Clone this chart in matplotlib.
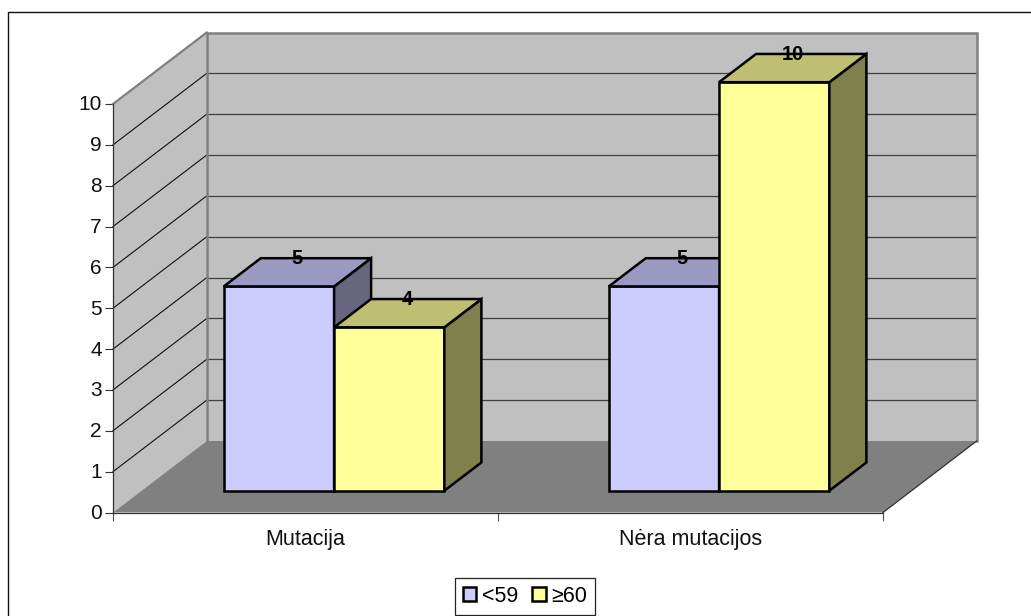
import matplotlib
matplotlib.use("Agg")
import matplotlib.pyplot as plt
from matplotlib.patches import Polygon, Patch, Rectangle
from matplotlib.transforms import ScaledTranslation

plt.rcParams['font.family'] = ['Liberation Sans', 'DejaVu Sans']

# Data
categories = ["Mutacija", "Nėra mutacijos"]
series_names = ["<59", "≥60"]
values_young = [5, 5]
values_old = [4, 10]
y_ticks = list(range(0, 11))

# Box projection: depth 0..1 shifts a point right and up on the axes
DEPTH_X = 93.7 / 385.0   # category units per unit of depth
DEPTH_Y = 71.5 / 40.85   # value units per unit of depth
BAR_D0, BAR_D1 = 0.305, 0.70
BAR_W = 110.3 / 385.0

colors = [
    {"front": "#CCCCFF", "top": "#9999C2", "side": "#66667F"},
    {"front": "#FFFF99", "top": "#BFBF73", "side": "#80804C"},
]
WALL, FLOOR, WALL_EDGE = "#C0C0C0", "#808080", "#808080"


def proj(x, v, d):
    return (x + d * DEPTH_X, v + d * DEPTH_Y)


fig = plt.figure(figsize=(10.31, 6.16), dpi=100)
fig.add_artist(Rectangle((7.5 / 1031, -0.1), 1.2, 1.1 - 11.5 / 616, transform=fig.transFigure,
                         fc="white", ec="#111111", lw=1.0, zorder=-5))

ax = fig.add_axes([113 / 1031, (616 - 512.5) / 616, 770 / 1031, 408.5 / 616])
ax.set_xlim(0, 2)
ax.set_ylim(0, 10)
ax.patch.set_visible(False)


def poly(points, **kw):
    kw.setdefault("clip_on", False)
    kw.setdefault("joinstyle", "miter")
    ax.add_patch(Polygon(points, closed=True, **kw))


# Walls and floor
poly([proj(0, 0, 1), proj(2, 0, 1), proj(2, 10, 1), proj(0, 10, 1)], fc=WALL, ec="none", zorder=1)
poly([proj(0, 0, 0), proj(0, 0, 1), proj(0, 10, 1), proj(0, 10, 0)], fc=WALL, ec="none", zorder=1)
poly([proj(0, 0, 0), proj(2, 0, 0), proj(2, 0, 1), proj(0, 0, 1)], fc=FLOOR, ec="none", zorder=1.5)

# Gridlines run across the side wall and the back wall
for t in y_ticks[1:-1]:
    xs, ys = zip(proj(0, t, 0), proj(0, t, 1), proj(2, t, 1))
    ax.plot(xs[:2], ys[:2], color="#101010", lw=0.8, clip_on=False, zorder=2)
    ax.plot(xs[1:], ys[1:], color="#404040", lw=0.9, clip_on=False, zorder=2)

# Wall outline
xs, ys = zip(proj(0, 0, 1), proj(0, 10, 1), proj(2, 10, 1), proj(2, 0, 1))
ax.plot(xs, ys, color=WALL_EDGE, lw=1.8, clip_on=False, zorder=2.5, solid_joinstyle="miter")
xs, ys = zip(proj(0, 10, 0), proj(0, 10, 1))
ax.plot(xs, ys, color=WALL_EDGE, lw=1.6, clip_on=False, zorder=2.5)
xs, ys = zip(proj(2, 0, 0), proj(2, 0, 1))
ax.plot(xs, ys, color="#303030", lw=0.9, clip_on=False, zorder=2.5)

# Bars and their value labels
label_lift = ScaledTranslation(0, 1.5 / 100, fig.dpi_scale_trans)
z = 3.0
for c in range(len(categories)):
    for s, vals in enumerate((values_young, values_old)):
        v = vals[c]
        x0 = c + 0.5 - BAR_W + s * BAR_W
        x1 = x0 + BAR_W
        edge = dict(ec="black", lw=1.8, zorder=z)
        poly([proj(x0, 0, BAR_D0), proj(x1, 0, BAR_D0), proj(x1, v, BAR_D0), proj(x0, v, BAR_D0)],
             fc=colors[s]["front"], **edge)
        poly([proj(x1, 0, BAR_D0), proj(x1, 0, BAR_D1), proj(x1, v, BAR_D1), proj(x1, v, BAR_D0)],
             fc=colors[s]["side"], **edge)
        poly([proj(x0, v, BAR_D0), proj(x1, v, BAR_D0), proj(x1, v, BAR_D1), proj(x0, v, BAR_D1)],
             fc=colors[s]["top"], **edge)
        # Label sits over the middle of the top face, level with its back edge
        tx, _ = proj((x0 + x1) / 2, v, (BAR_D0 + BAR_D1) / 2)
        _, ty = proj((x0 + x1) / 2, v, BAR_D1)
        ax.text(tx, ty, str(v), ha="center", va="center_baseline", fontsize=14.5,
                fontweight="bold", color="black", zorder=20, clip_on=False,
                transform=ax.transData + label_lift)
        z += 1

# Axes furniture
for side in ("top", "right"):
    ax.spines[side].set_visible(False)
for side in ("left", "bottom"):
    ax.spines[side].set_color("#303030")
    ax.spines[side].set_linewidth(0.9)
    ax.spines[side].set_zorder(2.6)
ax.set_yticks(y_ticks)
ax.set_yticklabels([str(t) for t in y_ticks])
ax.set_xticks([0, 1, 2])
ax.set_xticklabels([])
ax.set_xticks([i + 0.5 for i in range(len(categories))], minor=True)
ax.set_xticklabels(categories, minor=True)
ax.tick_params(axis="y", length=5.5, width=0.8, color="#303030", pad=2.5, labelsize=15, labelcolor="#111111")
ax.tick_params(axis="x", which="major", length=5.5, width=0.8, color="#505050")
ax.tick_params(axis="x", which="minor", length=0, pad=12, labelsize=15.5, labelcolor="#111111")
for lbl in ax.get_yticklabels():
    lbl.set_transform(lbl.get_transform() + ScaledTranslation(0, 1 / 100, fig.dpi_scale_trans))

# Legend
handles = [Patch(fc=colors[i]["front"], ec="black", lw=1.8) for i in range(2)]
fig.legend(handles, series_names, loc="center", bbox_to_anchor=(525 / 1031, (616 - 596.5) / 616),
           ncol=2, fontsize=15.5, frameon=True, fancybox=False, framealpha=1, edgecolor="#222222",
           handlelength=0.62, handleheight=0.62, handletextpad=0.28, columnspacing=0.65,
           borderpad=0.36, borderaxespad=0).get_frame().set_linewidth(0.9)

fig.savefig("out.png", dpi=100)
